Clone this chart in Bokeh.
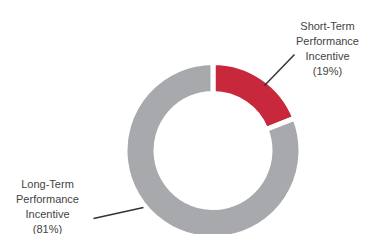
import numpy as np
from bokeh.plotting import figure
from bokeh.models import Range1d, ColumnDataSource
from bokeh.core.properties import value
from bokeh.embed import file_html
from bokeh.resources import INLINE

# ---- data ----
categories = ["Short-Term Performance Incentive", "Long-Term Performance Incentive"]
shares = [19, 81]
percent_labels = ["(19%)", "(81%)"]
label_words = [["Short-Term", "Performance", "Incentive"], ["Long-Term", "Performance", "Incentive"]]
colors = ["#C8283C", "#A7A9AC"]

W, H = 362, 234
p = figure(width=W, height=H, output_backend="svg", toolbar_location=None,
           x_range=Range1d(0, W), y_range=Range1d(250 - H, 250), min_border=0)
p.axis.visible = False
p.grid.visible = False
p.outline_line_color = None
p.background_fill_color = "white"
p.border_fill_color = "white"

# layout helpers (pixel-like coordinates, y measured from bottom of 250px canvas)
def Y(ref_y):
    return 250 - ref_y

cx, cy = 212.5, Y(150)
frac = np.array(shares, dtype=float) / sum(shares)
cum = np.concatenate([[0], np.cumsum(frac)])
start = np.pi / 2 - 2 * np.pi * cum[:-1]
end = np.pi / 2 - 2 * np.pi * cum[1:]

src = ColumnDataSource(dict(start=start, end=end, color=colors, cat=categories))
p.annular_wedge(x=cx, y=cy, inner_radius=57, outer_radius=88,
                start_angle="start", end_angle="end", direction="clock",
                fill_color="color", line_color="white", line_width=5, source=src)

# leader lines
p.line([264, 294], [Y(85), Y(54)], line_color="#333333", line_width=1.5)
p.line([93, 143], [Y(218), Y(207)], line_color="#333333", line_width=1.5)

# labels
label_pos = [(327, 25), (47, 183)]
xs, ys, texts = [], [], []
for (lx, ly), words, pct in zip(label_pos, label_words, percent_labels):
    for i, t in enumerate(words + [pct]):
        xs.append(lx)
        ys.append(Y(ly + i * 15))
        texts.append(t)
p.text(x=xs, y=ys, text=texts, text_align="center", text_baseline="middle",
       text_font=value("Liberation Sans"), text_font_size="11px", text_color="#444444")

open("out.html", "w").write(file_html(p, INLINE))
